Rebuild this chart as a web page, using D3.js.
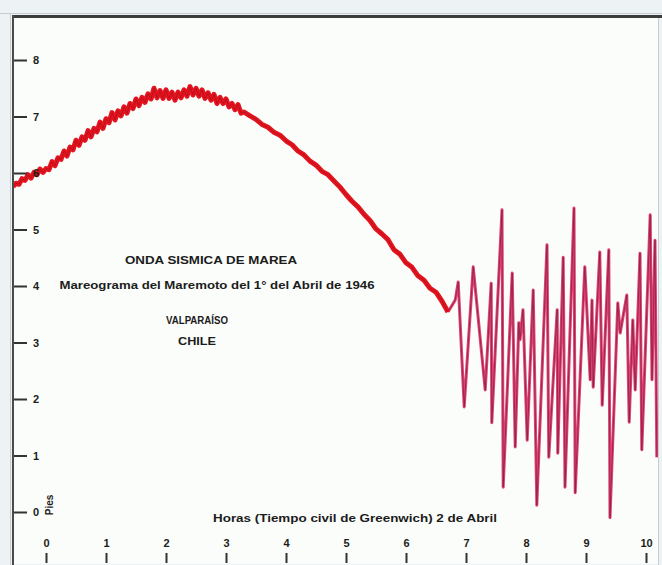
<!DOCTYPE html>
<html><head><meta charset="utf-8">
<script src="https://cdn.jsdelivr.net/npm/d3@7"></script>
<style>
html,body{margin:0;padding:0;background:#edf2f4;}
svg{display:block;}
text{font-family:"Liberation Sans",Arial,sans-serif;font-weight:bold;fill:#1c1c1c;}
</style></head><body>
<svg id="chart" width="662" height="565"></svg>
<script>
// ---- data ----
const hourTicks = [0,1,2,3,4,5,6,7,8,9,10];
const footTicks = [0,1,2,3,4,5,6,7,8];

// tidal curve (hours GMT, level in feet)
const tidalHours = [
  -0.55,-0.50,-0.45,-0.40,-0.35,-0.30,-0.25,-0.20,-0.15,-0.10,-0.05,
  0.00,0.05,0.10,0.15,0.20,0.25,0.30,0.35,0.40,0.45,0.50,0.55,0.60,0.65,0.70,0.75,0.80,0.85,0.90,0.95,
  1.00,1.05,1.10,1.15,1.20,1.25,1.30,1.35,1.40,1.45,1.50,1.55,1.60,1.65,1.70,1.75,1.80,1.85,1.90,1.95,
  2.00,2.05,2.10,2.15,2.20,2.25,2.30,2.35,2.40,2.45,2.50,2.55,2.60,2.65,2.70,2.75,2.80,2.85,2.90,2.95,
  3.00,3.05,3.10,3.15,3.20,3.25,3.30,
  3.4,3.5,3.6,3.7,3.8,3.9,4.0,4.1,4.2,4.3,4.4,4.5,4.6,4.7,4.8,4.9,
  5.0,5.1,5.2,5.3,5.4,5.5,5.6,5.7,5.8,5.9,6.0,6.1,6.2,6.3,6.4,6.5,6.6,6.7];
const tidalLevels = [
  5.76,5.82,5.80,5.90,5.87,5.97,5.91,6.01,5.97,6.07,6.01,
  6.08,6.06,6.20,6.13,6.27,6.24,6.39,6.30,6.46,6.41,6.58,6.49,6.64,6.58,6.75,6.64,6.79,6.73,6.90,6.79,
  6.96,6.89,7.07,6.94,7.10,7.01,7.17,7.06,7.23,7.14,7.31,7.19,7.34,7.25,7.40,7.31,7.50,7.33,7.46,7.32,
  7.47,7.32,7.43,7.29,7.43,7.33,7.47,7.36,7.53,7.38,7.50,7.36,7.47,7.32,7.42,7.29,7.39,7.23,7.34,7.23,
  7.31,7.17,7.23,7.12,7.21,7.06,7.08,
  7.01,6.95,6.86,6.81,6.72,6.67,6.57,6.50,6.39,6.32,6.21,6.14,6.03,5.97,5.86,5.75,
  5.62,5.50,5.40,5.27,5.16,5.01,4.92,4.82,4.64,4.56,4.41,4.33,4.18,4.10,3.96,3.89,3.73,3.54];

// tsunami oscillations
const surgeHours = [6.7,6.82,6.87,6.97,7.12,7.32,7.42,7.43,7.60,7.62,7.77,7.82,7.88,7.90,7.95,8.02,8.12,8.18,8.35,8.38,
  8.52,8.53,8.62,8.65,8.80,8.82,8.98,9.07,9.10,9.12,9.23,9.27,9.38,9.40,9.53,9.57,9.68,9.72,9.78,9.82,
  9.90,9.93,10.07,10.10,10.15,10.18];
const surgeLevels = [3.54,3.75,4.07,1.86,4.34,2.16,4.05,1.58,5.35,0.44,4.23,1.15,3.35,3.05,3.58,1.27,3.93,0.12,4.73,0.97,
  3.58,1.04,4.51,0.44,5.38,0.34,4.34,2.34,3.75,2.21,4.60,1.89,4.64,-0.10,3.70,3.17,3.84,1.59,3.40,2.16,
  4.58,1.10,5.26,2.34,4.81,0.97];

const titleLines = ["ONDA SISMICA DE MAREA", "Mareograma del Maremoto del 1° del Abril de 1946", "VALPARAÍSO", "CHILE"];
const xTitle = "Horas (Tiempo civil de Greenwich)  2 de Abril";
const yTitle = "Pies";

// ---- layout ----
const svg = d3.select("#chart");
const W = 662, H = 565;
const panel = {left: 12, top: 16, right: 658, bottom: 564};

const x = d3.scaleLinear().domain([0, 10]).range([46, 646]);
const y = d3.scaleLinear().domain([0, 8]).range([512, 60]);

svg.append("rect").attr("width", W).attr("height", H).attr("fill", "#edf2f4");
svg.append("rect").attr("x", panel.left).attr("y", panel.top)
  .attr("width", panel.right - panel.left).attr("height", panel.bottom - panel.top)
  .attr("fill", "#fafdf9");

svg.append("defs").append("clipPath").attr("id", "clip")
  .append("rect").attr("x", 14).attr("y", 18).attr("width", panel.right - 14).attr("height", panel.bottom - 18);

const g = svg.append("g").attr("clip-path", "url(#clip)");

const tidal = tidalHours.map((h, i) => [h, tidalLevels[i]]);
const surge = surgeHours.map((h, i) => [h, surgeLevels[i]]);
const line = d3.line().x(d => x(d[0])).y(d => y(d[1]));

g.append("path").attr("d", line(surge)).attr("fill", "none")
  .attr("stroke", "#e04276").attr("stroke-width", 3).attr("stroke-linejoin", "round");
g.append("path").attr("d", line(surge)).attr("fill", "none")
  .attr("stroke", "#7a1838").attr("stroke-width", 1).attr("stroke-opacity", 0.65);

g.append("path").attr("d", line(tidal)).attr("fill", "none")
  .attr("stroke", "#e3141f").attr("stroke-width", 5).attr("stroke-linejoin", "round");
g.append("path").attr("d", line(tidal)).attr("fill", "none")
  .attr("stroke", "#8a0a12").attr("stroke-width", 1).attr("stroke-opacity", 0.4);

// ---- axes ----
const yAxis = svg.append("g").attr("transform", `translate(13,0)`)
  .call(d3.axisRight(y).tickValues(footTicks).tickSize(14).tickPadding(6).tickFormat(d3.format("d")));
yAxis.select(".domain").remove();
yAxis.selectAll("line").attr("stroke", "#333").attr("stroke-width", 2);
yAxis.selectAll("text").style("font-size", "11px").attr("fill", "#1c1c1c");

const xAxis = svg.append("g").attr("transform", `translate(0,${panel.bottom - 1})`)
  .call(d3.axisTop(x).tickValues(hourTicks).tickSize(10).tickPadding(6).tickFormat(d3.format("d")));
xAxis.select(".domain").remove();
xAxis.selectAll("line").attr("stroke", "#333").attr("stroke-width", 2);
xAxis.selectAll("text").style("font-size", "11px").attr("fill", "#1c1c1c");

// frame lines
svg.append("line").attr("x1", 0).attr("x2", W).attr("y1", 13.5).attr("y2", 13.5).attr("stroke", "#c9cccc").attr("stroke-width", 1);
svg.append("line").attr("x1", panel.left).attr("x2", W).attr("y1", 16.5).attr("y2", 16.5).attr("stroke", "#3d3d3d").attr("stroke-width", 3);
svg.append("line").attr("x1", 13).attr("x2", 13).attr("y1", 15).attr("y2", H).attr("stroke", "#4a4a4a").attr("stroke-width", 2);
svg.append("line").attr("x1", 10.5).attr("x2", 10.5).attr("y1", 14).attr("y2", H).attr("stroke", "#c9cccc").attr("stroke-width", 1);
svg.append("line").attr("x1", 658.5).attr("x2", 658.5).attr("y1", 18).attr("y2", H).attr("stroke", "#c8cccc").attr("stroke-width", 1);

// ---- texts ----
const tPos = [[211, 264, 172], [217, 289, 315], [197, 324, 62], [197, 345, 38]];
titleLines.forEach((s, i) => {
  svg.append("text").attr("x", tPos[i][0]).attr("y", tPos[i][1])
    .attr("text-anchor", "middle").style("font-size", "10.5px")
    .attr("textLength", tPos[i][2]).attr("lengthAdjust", "spacingAndGlyphs").text(s);
});
svg.append("text").attr("x", 355).attr("y", 522).attr("text-anchor", "middle")
  .style("font-size", "10.5px").attr("textLength", 284).attr("lengthAdjust", "spacingAndGlyphs").text(xTitle);
svg.append("text").attr("transform", "translate(53,505) rotate(-90)").attr("text-anchor", "middle")
  .style("font-size", "10px").text(yTitle);
</script>
</body></html>
